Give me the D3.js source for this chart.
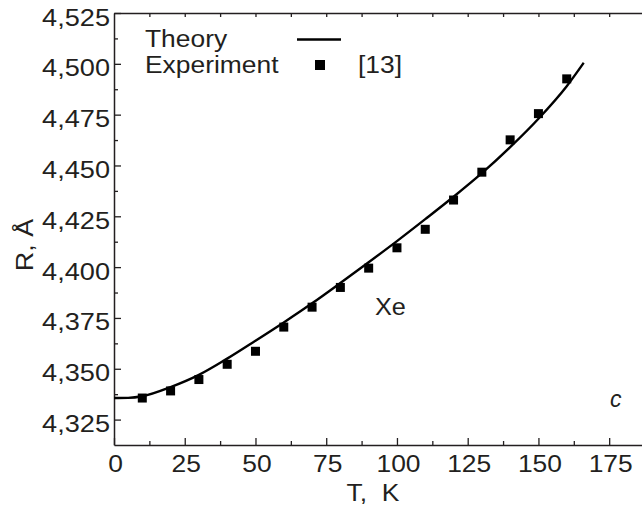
<!DOCTYPE html>
<html>
<head>
<meta charset="utf-8">
<script src="https://cdn.jsdelivr.net/npm/d3@7/dist/d3.min.js"></script>
<style>
  html, body { margin: 0; padding: 0; background: #fff; }
  svg { display: block; }
  text { font-family: "Liberation Sans", Arial, Helvetica, sans-serif; fill: #231f20; }
</style>
</head>
<body>
<svg id="chart" width="642" height="506"></svg>
<script>
// Lattice parameter of solid xenon versus temperature
const theoryT = [0, 5, 10, 20, 30, 40, 50, 60, 70, 80, 90, 100, 110, 120, 130, 140, 150, 160, 166];
const theoryR = [4.3356, 4.3357, 4.3365, 4.3410, 4.3470, 4.3550, 4.3638, 4.3728, 4.3822, 4.3922,
                 4.4024, 4.4128, 4.4236, 4.4346, 4.4462, 4.4590, 4.4730, 4.4890, 4.5005];

const expT = [10, 20, 30, 40, 50, 60, 70, 80, 90, 100, 110, 120, 130, 140, 150, 160];
const expR = [4.3356, 4.3391, 4.3447, 4.3522, 4.3586, 4.3705, 4.3803, 4.3900,
              4.3995, 4.4095, 4.4186, 4.4330, 4.4467, 4.4626, 4.4755, 4.4926];

const xTicks = [0, 25, 50, 75, 100, 125, 150, 175];
const xMinor = [12.5, 37.5, 62.5, 87.5, 112.5, 137.5, 162.5];
const yTicks = [4.325, 4.350, 4.375, 4.400, 4.425, 4.450, 4.475, 4.500, 4.525];
const yMinor = [4.3375, 4.3625, 4.3875, 4.4125, 4.4375, 4.4625, 4.4875, 4.5125];

const legendLabels = ["Theory", "Experiment"];
const refLabel = "[13]";
const elementLabel = "Xe";
const panelLabel = "c";
const xTitle = "T,\u00a0 K";
const yTitle = "R, Å";

const svg = d3.select("#chart");
const axisColor = "#231f20";

const x = d3.scaleLinear().domain([0, 186.6]).range([114, 642]);
const y = d3.scaleLinear().domain([4.3125, 4.525]).range([445, 13]);

const fmt = v => d3.format(".3f")(v).replace(".", ",");

function styleAxis(g) {
  g.selectAll("path.domain").attr("stroke", axisColor).attr("stroke-width", 1.5);
  g.selectAll(".tick line").attr("stroke", axisColor).attr("stroke-width", 1.3);
}

// bottom axis with labels
const gx = svg.append("g").attr("transform", `translate(0,${y(4.3125)})`)
  .call(d3.axisBottom(x).tickValues(xTicks).tickSizeInner(-7).tickSizeOuter(0).tickFormat(d3.format("d")));
styleAxis(gx);
gx.selectAll(".tick text")
  .attr("y", 0).attr("dy", 0)
  .attr("font-size", 24)
  .attr("fill", axisColor)
  .attr("transform", "translate(1,27) scale(1.1,1)");

// bottom minor ticks
svg.append("g").attr("transform", `translate(0,${y(4.3125)})`)
  .call(d3.axisBottom(x).tickValues(xMinor).tickSizeInner(-4).tickSizeOuter(0).tickFormat(""))
  .call(g => g.select("path.domain").remove())
  .call(styleAxis);

// top frame with short ticks
svg.append("g").attr("transform", `translate(0,${y(4.525)})`)
  .call(d3.axisTop(x).tickValues(xTicks.concat(xMinor).filter(d => d > 0)).tickSizeInner(-4).tickSizeOuter(0).tickFormat(""))
  .call(styleAxis);

// left axis with labels
const gy = svg.append("g").attr("transform", `translate(${x(0)},0)`)
  .call(d3.axisLeft(y).tickValues(yTicks).tickSizeInner(-7).tickSizeOuter(0).tickFormat(fmt));
styleAxis(gy);
gy.selectAll(".tick text")
  .attr("x", 0).attr("dy", 0)
  .attr("font-size", 23)
  .attr("fill", axisColor)
  .attr("transform", "translate(-4,12) scale(1.18,1)");

// left minor ticks
svg.append("g").attr("transform", `translate(${x(0)},0)`)
  .call(d3.axisLeft(y).tickValues(yMinor).tickSizeInner(-4).tickSizeOuter(0).tickFormat(""))
  .call(g => g.select("path.domain").remove())
  .call(styleAxis);

// theory curve
const theory = theoryT.map((t, i) => [t, theoryR[i]]);
svg.append("path")
  .datum(theory)
  .attr("fill", "none")
  .attr("stroke", "#000")
  .attr("stroke-width", 2.4)
  .attr("d", d3.line().x(d => x(d[0])).y(d => y(d[1])).curve(d3.curveMonotoneX));

// experimental points
const sq = 9;
svg.append("g").selectAll("rect")
  .data(expT.map((t, i) => [t, expR[i]]))
  .join("rect")
  .attr("x", d => x(d[0]) - sq / 2)
  .attr("y", d => y(d[1]) - sq / 2)
  .attr("width", sq)
  .attr("height", sq)
  .attr("fill", "#000");

// legend
const leg = svg.append("g");
leg.append("text").attr("x", 145).attr("y", 47).attr("font-size", 24)
  .attr("transform", "translate(145,0) scale(1.1,1) translate(-145,0)")
  .text(legendLabels[0]);
leg.append("text").attr("x", 145).attr("y", 73).attr("font-size", 24)
  .attr("transform", "translate(145,0) scale(1.1,1) translate(-145,0)")
  .text(legendLabels[1]);
leg.append("line").attr("x1", 297).attr("x2", 341).attr("y1", 39.5).attr("y2", 39.5)
  .attr("stroke", "#000").attr("stroke-width", 2.4);
leg.append("rect").attr("x", 315).attr("y", 60).attr("width", 10).attr("height", 10).attr("fill", "#000");
leg.append("text").attr("x", 358).attr("y", 73).attr("font-size", 24)
  .attr("transform", "translate(358,0) scale(1.1,1) translate(-358,0)")
  .text(refLabel);

// annotations
svg.append("text").attr("x", 375).attr("y", 315).attr("font-size", 23)
  .attr("transform", "translate(375,0) scale(1.1,1) translate(-375,0)")
  .text(elementLabel);
svg.append("text").attr("x", 610).attr("y", 407).attr("font-size", 23)
  .attr("font-family", "'Liberation Serif', 'Times New Roman', serif")
  .attr("font-style", "italic")
  .text(panelLabel);

// axis titles
svg.append("text").attr("text-anchor", "middle").attr("font-size", 24)
  .attr("transform", "translate(373,501) scale(1.1,1)")
  .text(xTitle);
svg.append("text").attr("text-anchor", "middle").attr("font-size", 24)
  .attr("transform", "translate(33,245) rotate(-90) scale(1.12,1)")
  .text(yTitle);
</script>
</body>
</html>
